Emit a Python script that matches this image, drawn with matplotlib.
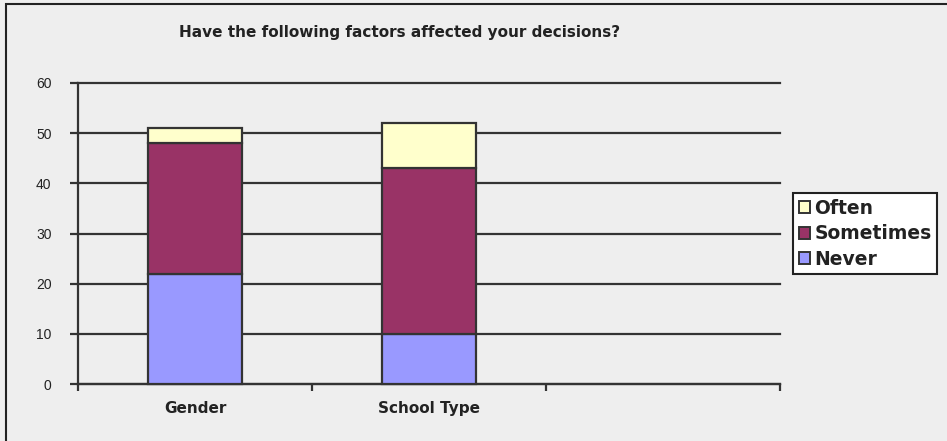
import matplotlib
matplotlib.use("Agg")
import matplotlib.pyplot as plt
from matplotlib.patches import Rectangle, Patch
import numpy as np

categories = ["Gender", "School Type"]
series_names = ["Never", "Sometimes", "Often"]
never = [22, 10]
sometimes = [26, 33]
often = [3, 9]
y_ticks = [0, 10, 20, 30, 40, 50, 60]
title = "Have the following factors affected your decisions?"

colors = {"Never": "#9999FF", "Sometimes": "#993366", "Often": "#FFFFCC"}
edge = "#333333"
bg = "#EEEEEE"
wide_font = ["DejaVu Sans"]

plt.rcParams["font.family"] = ["Liberation Sans", "DejaVu Sans"]

fig = plt.figure(figsize=(9.47, 4.41), dpi=100, facecolor=bg)
ax = fig.add_axes([78 / 947, 1 - 384 / 441, 702 / 947, 301 / 441])
ax.set_facecolor(bg)

# frame around the whole chart area
fig.patches.append(Rectangle((6 / 947, -0.1), 1.2, 1 - 4 / 441 + 0.1,
                             transform=fig.transFigure, fill=False,
                             edgecolor="#222222", linewidth=1.5, zorder=0))

x = np.arange(len(categories))
width = 0.4
bottom = np.zeros(len(categories))
for name, vals in zip(series_names, [never, sometimes, often]):
    bars = ax.bar(x, vals, width, bottom=bottom, color=colors[name],
                  edgecolor=edge, linewidth=1.6, zorder=3, label=name)
    for b in bars:
        b.set_clip_on(False)
    bottom = bottom + np.array(vals)

ax.set_xlim(-0.5, 2.5)
ax.set_ylim(y_ticks[0], y_ticks[-1])
ax.set_yticks(y_ticks)
ax.set_yticklabels([str(t) for t in y_ticks], fontsize=10, color="#222222")
ax.yaxis.grid(True, color=edge, linewidth=1.6, zorder=1)
for gl in ax.get_ygridlines():
    gl.set_clip_on(False)
ax.set_axisbelow(True)

ax.set_xticks(x)
ax.set_xticklabels(categories, fontsize=11, fontweight="bold", color="#222222",
                   family=wide_font)
ax.tick_params(axis="x", which="major", length=0, pad=12)
ax.set_xticks(np.arange(-0.5, 3.0, 1.0), minor=True)
ax.tick_params(axis="x", which="minor", length=5, width=1.6, color=edge, direction="out")
ax.tick_params(axis="y", length=6, width=1.6, color=edge, pad=13)

for s in ["top", "right"]:
    ax.spines[s].set_visible(False)
for s in ["left", "bottom"]:
    ax.spines[s].set_color(edge)
    ax.spines[s].set_linewidth(1.6)

fig.text(400 / 947, 1 - 32 / 441, title, ha="center", va="center",
         fontsize=11, fontweight="bold", color="#222222", family=wide_font)

leg_order = ["Often", "Sometimes", "Never"]
leg_handles = [Patch(facecolor=colors[n], edgecolor=edge, linewidth=1.4) for n in leg_order]
leg = fig.legend(leg_handles, leg_order, loc="upper left",
                 bbox_to_anchor=(793 / 947, 1 - 193 / 441),
                 frameon=True, fancybox=False, framealpha=1,
                 edgecolor="#222222", facecolor="white",
                 prop={"weight": "bold", "size": 13.5, "family": wide_font},
                 handlelength=0.6, handleheight=0.6, handletextpad=0.25,
                 borderpad=0.3, labelspacing=0.35, borderaxespad=0)
leg.get_frame().set_linewidth(1.5)
for t in leg.get_texts():
    t.set_color("#222222")

fig.savefig("out.png", dpi=100, facecolor=bg)
